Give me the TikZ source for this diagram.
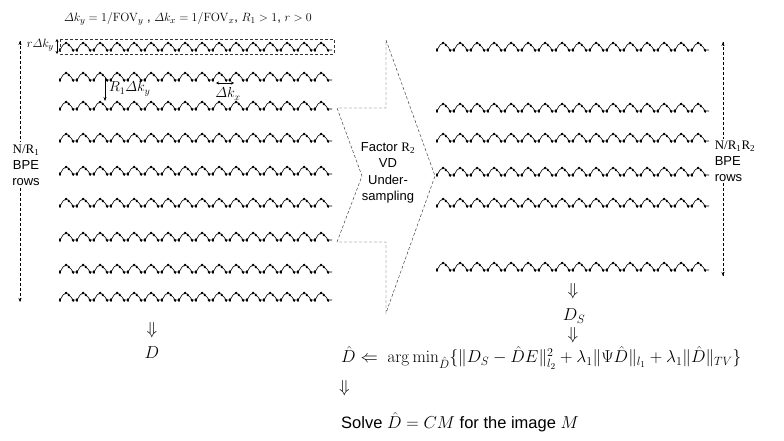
\documentclass[tikz,border=0pt]{standalone}
\usepackage{amsmath}
\usepackage[no-math]{fontspec}
\setmainfont{Liberation Sans}
\newfontfamily\serifrm{Liberation Serif}
\usetikzlibrary{arrows.meta,calc}
\tikzset{
  zigline/.style={line width=0.6pt,black},
  zigdot/.style={line width=1.8pt,black,line cap=round},
  dashline/.style={densely dashed,line width=0.45pt,black!80},
  dimarrow/.style={line width=0.5pt,black,-{Stealth[length=4pt,width=3pt]}},
  dimboth/.style={line width=0.5pt,black,{Stealth[length=3pt,width=3pt]}-{Stealth[length=3pt,width=3pt]}},
  sidearrow/.style={densely dashed,line width=0.45pt,black},
  zigunit/.pic={
    \draw[zigline] (0,3) -- (3,-2) -- (6,-4) -- (8,-3) -- (11,0) -- (13,3) -- (17,3);
    \draw[zigdot] (0,2) -- (0,4);
    \draw[zigdot] (5.5,-3.5) -- (6.5,-4.5);
    \draw[zigdot] (8.5,-2.5) -- (9,-1.5);
    \draw[zigdot] (12.5,2.5) -- (13.3,4);
  },
  lbl/.style={inner sep=1pt,font=\fontsize{14}{16}\selectfont},
  flow/.style={inner sep=1pt,font=\fontsize{17}{19}\selectfont},
}
\newcommand\zigrow[2]{\foreach \k in {0,...,15}{\pic at ({#1+17*\k},#2) {zigunit};}}
\begin{document}
\begin{tikzpicture}[x=1pt,y=-1pt]
\useasboundingbox (0,0) rectangle (784,441);
% top text
\node[lbl,font=\fontsize{13}{15}\selectfont] (toptext) at (188,19) {$\varDelta k_y = 1/\mathrm{FOV}_y$ , $\varDelta k_x = 1/\mathrm{FOV}_x$, $R_1>1$, $r>0$};
% left rows
\foreach \yy in {47,77,106,138,171,203,237,269,297}{\zigrow{60}{\yy}}
% dashed box around row 1
\draw[dashline] (60,39) rectangle (334,54);
% r Delta k_y
\coordinate (rt) at (57,39);
\coordinate (rb) at (57,54);
\draw[dimboth] (rt) -- (rb);
\node[lbl,anchor=east,font=\fontsize{13}{15}\selectfont] (rlabel) at (55,45) {$r\varDelta k_y$};
% R1 Delta k_y
\coordinate (Ra) at (105,78);
\coordinate (Rb) at (105,101);
\draw[dimarrow] (Ra) -- (Rb);
\node[lbl,anchor=west] (R1label) at (108,89) {$R_1\varDelta k_y$};
% Delta k_x
\coordinate (xa) at (216,83);
\coordinate (xb) at (234,83);
\draw[dimboth] (xa) -- (xb);
\node[lbl] (kxlabel) at (228,94) {$\varDelta k_x$};
% left side arrow
\coordinate (lt) at (20,41);
\coordinate (lb) at (20,302);
\node[fill=white,inner sep=2pt,align=center,font=\fontsize{13}{16}\selectfont] (lefttext) at (26,165)
  {{\serifrm N/R\textsubscript{1}}\\BPE\\rows};
\draw[sidearrow] (lt) -- (lefttext.north -| lt);
\draw[sidearrow] (lefttext.south -| lb) -- (lb);
\draw[dimarrow] ($(lt)+(0,4)$) -- (lt);
\draw[dimarrow] ($(lb)+(0,-4)$) -- (lb);
% big chevron arrow
\draw[dashline] (386,40) -- (435,176) -- (386,313) -- (386,242) -- (337,242) -- (362,176) -- (337,108) -- (386,108) -- cycle;
\node[align=center,inner sep=0pt,font=\fontsize{13}{16.5}\selectfont] (factor) at (388,173)
  {Factor {\serifrm R\textsubscript{2}}\\VD\\Under-\\sampling};
% right rows
\foreach \yy in {47,108,138,172,203,267}{\zigrow{437}{\yy}}
% right side arrow
\coordinate (rt2) at (723,42);
\coordinate (rb2) at (723,276);
\node[fill=white,inner sep=1.5pt,align=left,font=\fontsize{13}{16}\selectfont] (righttext) at (735,161)
  {{\serifrm N/R\textsubscript{1}R\textsubscript{2}}\\BPE\\rows};
\draw[sidearrow] (rt2) -- (righttext.north -| rt2);
\draw[sidearrow] (righttext.south -| rt2) -- (rb2);
\draw[dimarrow] ($(rt2)+(0,4)$) -- (rt2);
\draw[dimarrow] ($(rb2)+(0,-4)$) -- (rb2);
% bottom left
\node[flow] (arrD) at (152,330) {$\Downarrow$};
\node[flow] (D) at (152,353) {$D$};
% bottom right
\node[flow] (arrS1) at (573,291) {$\Downarrow$};
\node[flow] (DS) at (574,316) {$D_S$};
\node[flow] (arrS2) at (573,335) {$\Downarrow$};
\node[flow,anchor=west,font=\fontsize{17.5}{19}\selectfont] (formula) at (340,358)
  {$\hat D \Leftarrow\ \arg\min\nolimits_{\hat D}\{\| D_S - \hat D E\|_{l_2}^2 + \lambda_1 \|\Psi \hat D\|_{l_1} + \lambda_1\|\hat D\|_{TV}\}$};
\node[flow,anchor=west] (arrF) at (338,388) {$\Downarrow$};
\node[flow,anchor=west,font=\fontsize{16.5}{18}\selectfont] (solve) at (340,422)
  {Solve $\hat D = CM$ for the image $M$};
\end{tikzpicture}
\end{document}
